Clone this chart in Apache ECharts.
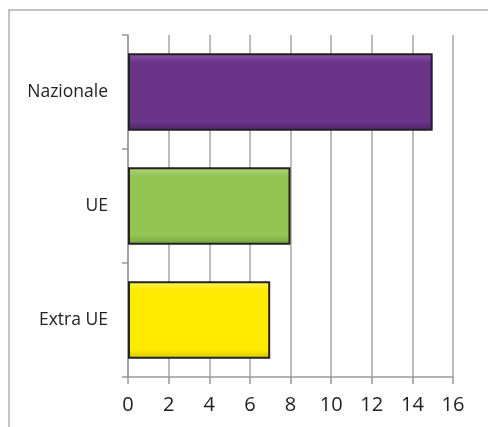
<!DOCTYPE html>
<html><head><meta charset="utf-8">
<script src="https://cdn.jsdelivr.net/npm/echarts@6/dist/echarts.min.js"></script>
<style>html,body{margin:0;padding:0;background:#fff}#c{width:488px;height:427px}</style>
</head><body><div id="c"></div>
<script>
const categories = ['Extra UE', 'UE', 'Nazionale'];
const values = [7, 8, 15];
const barColors = [
  ['#fff35a', '#ffea00', '#d9c700'],
  ['#b0d878', '#92c353', '#73a23a'],
  ['#8a55a8', '#6a3589', '#4f2468']
];
const xTicks = [0, 2, 4, 6, 8, 10, 12, 14, 16];

const chart = echarts.init(document.getElementById('c'));
chart.setOption({
  animation: false,
  graphic: [{
    type: 'rect', shape: { x: 9, y: 10, width: 520, height: 440 },
    style: { fill: 'none', stroke: '#b0b0b0', lineWidth: 1.5 }, silent: true, z: -1
  }],
  grid: { left: 128, right: 35, top: 35, bottom: 50 },
  xAxis: {
    type: 'value', min: xTicks[0], max: xTicks[xTicks.length - 1], interval: 2,
    axisLine: { show: true, lineStyle: { color: '#999', width: 1.5 } },
    axisTick: { show: true, length: 7, lineStyle: { color: '#999', width: 1.5 } },
    splitLine: { show: true, lineStyle: { color: '#a6a6a6', width: 1.5 } },
    axisLabel: { fontSize: 20, color: '#222', margin: 18, fontFamily: 'Open Sans' }
  },
  yAxis: {
    type: 'category', data: categories,
    axisLine: { show: true, lineStyle: { color: '#999', width: 1.5 } },
    axisTick: { show: true, length: 6, lineStyle: { color: '#999', width: 1.5 } },
    axisLabel: { fontSize: 17.5, color: '#222', margin: 20, fontFamily: 'Open Sans' }
  },
  series: [{
    type: 'bar', barCategoryGap: '32%',
    data: values.map((v, i) => ({
      value: v,
      itemStyle: {
        color: new echarts.graphic.LinearGradient(0, 0, 0, 1, [
          { offset: 0, color: barColors[i][0] },
          { offset: 0.12, color: barColors[i][1] },
          { offset: 0.88, color: barColors[i][1] },
          { offset: 1, color: barColors[i][2] }
        ]),
        borderColor: '#222', borderWidth: 2
      }
    }))
  }]
});
</script></body></html>
